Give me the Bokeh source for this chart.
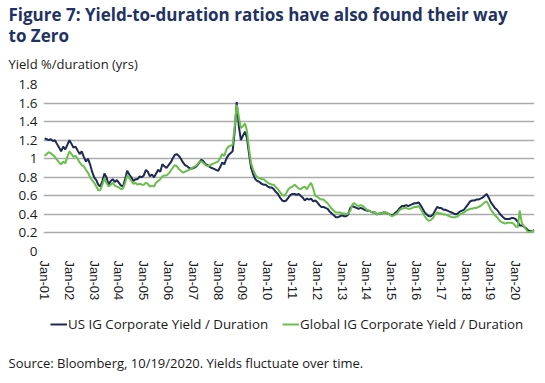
import pandas as pd
from bokeh.plotting import figure
from bokeh.layouts import column
from bokeh.models import (Legend, LegendItem, FixedTicker, DatetimeTickFormatter,
                          Range1d, ColumnDataSource, Title, Label)
from bokeh.embed import file_html
from bokeh.resources import INLINE

# ---------------- data (monthly, Jan-2001 .. Oct-2020) ----------------
us_ig = [
    1.22, 1.21, 1.20, 1.21, 1.19, 1.20, 1.16, 1.12, 1.08, 1.13, 1.10, 1.15,  # 2001
    1.20, 1.16, 1.12, 1.13, 1.09, 1.05, 1.08, 1.02, 0.97, 1.00, 0.94, 0.86,  # 2002
    0.80, 0.77, 0.72, 0.70, 0.76, 0.84, 0.80, 0.72, 0.76, 0.78, 0.75, 0.77,  # 2003
    0.74, 0.71, 0.70, 0.78, 0.87, 0.83, 0.80, 0.76, 0.78, 0.78, 0.81, 0.80,  # 2004
    0.82, 0.88, 0.86, 0.81, 0.83, 0.80, 0.84, 0.88, 0.86, 0.94, 0.92, 0.90,  # 2005
    0.93, 0.96, 1.00, 1.04, 1.05, 1.03, 1.00, 0.96, 0.93, 0.92, 0.90, 0.89,  # 2006
    0.90, 0.91, 0.93, 0.96, 0.99, 0.97, 0.94, 0.93, 0.91, 0.90, 0.89, 0.88,  # 2007
    0.87, 0.91, 0.96, 0.94, 1.00, 1.04, 1.06, 1.08, 1.30, 1.61, 1.35, 1.20,  # 2008
    1.25, 1.29, 1.22, 1.05, 0.90, 0.83, 0.78, 0.76, 0.75, 0.73, 0.72, 0.72,  # 2009
    0.70, 0.69, 0.69, 0.67, 0.64, 0.62, 0.58, 0.55, 0.54, 0.55, 0.58, 0.61,  # 2010
    0.62, 0.62, 0.61, 0.62, 0.60, 0.58, 0.55, 0.57, 0.56, 0.57, 0.54, 0.55,  # 2011
    0.53, 0.50, 0.48, 0.48, 0.47, 0.46, 0.43, 0.41, 0.39, 0.37, 0.37, 0.38,  # 2012
    0.39, 0.38, 0.38, 0.40, 0.47, 0.49, 0.48, 0.47, 0.46, 0.47, 0.46, 0.45,  # 2013
    0.44, 0.44, 0.43, 0.42, 0.42, 0.40, 0.41, 0.41, 0.42, 0.42, 0.41, 0.40,  # 2014
    0.39, 0.40, 0.42, 0.44, 0.47, 0.49, 0.49, 0.50, 0.49, 0.50, 0.51, 0.52,  # 2015
    0.52, 0.53, 0.50, 0.46, 0.42, 0.40, 0.38, 0.38, 0.40, 0.44, 0.48, 0.47,  # 2016
    0.47, 0.45, 0.45, 0.44, 0.43, 0.42, 0.41, 0.40, 0.41, 0.43, 0.44, 0.45,  # 2017
    0.48, 0.51, 0.54, 0.55, 0.55, 0.56, 0.56, 0.57, 0.58, 0.60, 0.62, 0.58,  # 2018
    0.53, 0.50, 0.47, 0.45, 0.42, 0.39, 0.37, 0.35, 0.35, 0.35, 0.36, 0.36,  # 2019
    0.35, 0.32, 0.28, 0.28, 0.27, 0.25, 0.23, 0.22, 0.22, 0.23,              # 2020
]

global_ig = [
    1.03, 1.05, 1.07, 1.06, 1.04, 1.02, 0.99, 0.96, 0.94, 0.97, 0.95, 1.02,  # 2001
    1.08, 1.05, 1.02, 1.03, 1.00, 0.96, 0.93, 0.92, 0.88, 0.85, 0.80, 0.77,  # 2002
    0.74, 0.70, 0.66, 0.66, 0.72, 0.79, 0.74, 0.70, 0.72, 0.74, 0.71, 0.70,  # 2003
    0.69, 0.67, 0.68, 0.74, 0.82, 0.79, 0.76, 0.73, 0.74, 0.72, 0.73, 0.72,  # 2004
    0.72, 0.74, 0.73, 0.70, 0.71, 0.70, 0.74, 0.76, 0.78, 0.81, 0.82, 0.82,  # 2005
    0.84, 0.87, 0.90, 0.93, 0.92, 0.89, 0.87, 0.85, 0.86, 0.87, 0.88, 0.89,  # 2006
    0.91, 0.92, 0.94, 0.97, 0.97, 0.95, 0.93, 0.92, 0.93, 0.94, 0.95, 0.96,  # 2007
    0.97, 1.01, 1.05, 1.03, 1.10, 1.13, 1.14, 1.15, 1.35, 1.58, 1.45, 1.33,  # 2008
    1.35, 1.38, 1.30, 1.10, 0.95, 0.88, 0.83, 0.80, 0.79, 0.78, 0.78, 0.76,  # 2009
    0.74, 0.73, 0.72, 0.72, 0.69, 0.67, 0.64, 0.61, 0.60, 0.63, 0.67, 0.69,  # 2010
    0.70, 0.72, 0.70, 0.68, 0.67, 0.69, 0.70, 0.67, 0.71, 0.74, 0.68, 0.60,  # 2011
    0.59, 0.57, 0.56, 0.56, 0.54, 0.52, 0.49, 0.46, 0.44, 0.42, 0.42, 0.42,  # 2012
    0.41, 0.41, 0.40, 0.41, 0.44, 0.51, 0.52, 0.50, 0.49, 0.50, 0.49, 0.47,  # 2013
    0.45, 0.44, 0.43, 0.42, 0.42, 0.40, 0.41, 0.41, 0.42, 0.42, 0.41, 0.40,  # 2014
    0.38, 0.39, 0.40, 0.42, 0.45, 0.46, 0.47, 0.47, 0.46, 0.46, 0.47, 0.48,  # 2015
    0.48, 0.49, 0.46, 0.42, 0.38, 0.35, 0.33, 0.34, 0.36, 0.40, 0.42, 0.41,  # 2016
    0.41, 0.40, 0.40, 0.39, 0.38, 0.37, 0.37, 0.37, 0.38, 0.40, 0.41, 0.42,  # 2017
    0.44, 0.45, 0.46, 0.46, 0.47, 0.47, 0.48, 0.49, 0.51, 0.53, 0.54, 0.50,  # 2018
    0.45, 0.42, 0.39, 0.37, 0.34, 0.32, 0.31, 0.30, 0.31, 0.31, 0.31, 0.30,  # 2019
    0.27, 0.26, 0.44, 0.31, 0.27, 0.24, 0.21, 0.21, 0.22, 0.22,              # 2020
]

dates = pd.date_range("2001-01-01", periods=len(us_ig), freq="MS")

tick_years = list(range(2001, 2021))
y_ticks = [0, 0.2, 0.4, 0.6, 0.8, 1.0, 1.2, 1.4, 1.6, 1.8]
y_tick_labels = ["0", "0.2", "0.4", "0.6", "0.8", "1", "1.2", "1.4", "1.6", "1.8"]

title_lines = ["Figure 7: Yield-to-duration ratios have also found their way", "to Zero"]
y_title = "Yield %/duration (yrs)"
series_names = ["US IG Corporate Yield / Duration", "Global IG Corporate Yield / Duration"]
source_note = "Source: Bloomberg, 10/19/2020. Yields fluctuate over time."

NAVY = "#1c2a55"
GREEN = "#6abf4b"
TITLE_C = "#1f3264"
TEXT_C = "#1a1a1a"
GRID_C = "#ababab"
FONT = "Open Sans"

W = 545
H_MAIN = 303
H_FOOT = 383 - H_MAIN

# ---------------- main chart ----------------
src = ColumnDataSource(dict(date=dates, us=us_ig, gl=global_ig))

p = figure(width=W, height=H_MAIN, output_backend="svg", toolbar_location=None,
           x_axis_type="datetime",
           x_range=Range1d(pd.Timestamp("2000-12-15"), pd.Timestamp("2020-10-05")),
           y_range=Range1d(0, 1.8))
p.frame_align = False
p.min_border_left = 43
p.min_border_right = 11
p.min_border_top = 84
p.min_border_bottom = 50
p.outline_line_color = None
p.background_fill_color = "white"
p.border_fill_color = "white"

r_us = p.line("date", "us", source=src, line_color=NAVY, line_width=2)
r_gl = p.line("date", "gl", source=src, line_color=GREEN, line_width=2)

p.xgrid.grid_line_color = None
p.ygrid.grid_line_color = GRID_C
p.ygrid.grid_line_width = 1.5
p.ygrid.ticker = FixedTicker(ticks=y_ticks)

p.yaxis.ticker = FixedTicker(ticks=y_ticks)
p.yaxis.major_label_overrides = {t: s for t, s in zip(y_ticks, y_tick_labels)}
p.yaxis.axis_line_color = None
p.yaxis.major_tick_line_color = None
p.yaxis.minor_tick_line_color = None
p.yaxis.major_tick_out = 0
p.yaxis.minor_tick_out = 0
p.yaxis.major_label_text_font = FONT
p.yaxis.major_label_text_font_size = "13.5px"
p.yaxis.major_label_text_color = TEXT_C
p.yaxis.major_label_standoff = 6

x_ticks = [pd.Timestamp(f"{y}-01-01").value / 1e6 for y in tick_years]
p.xaxis.ticker = FixedTicker(ticks=x_ticks)
p.xaxis.formatter = DatetimeTickFormatter(years="%b-%y", months="%b-%y", days="%b-%y",
                                          hours="%b-%y", minutes="%b-%y")
p.xaxis.major_label_orientation = "vertical"
p.xaxis.axis_line_color = None
p.xaxis.major_tick_line_color = None
p.xaxis.minor_tick_line_color = None
p.xaxis.major_tick_out = 0
p.xaxis.minor_tick_out = 0
p.xaxis.major_label_text_font = "Liberation Sans"
p.xaxis.major_label_text_font_size = "13px"
p.xaxis.major_label_text_color = TEXT_C
p.xaxis.major_label_standoff = 9

# texts above the plot (first added = closest to the plot)
p.title.text = ""
p.add_layout(Title(text=y_title, text_font=FONT, text_font_size="13px",
                   text_color=TEXT_C, text_font_style="normal", align="left",
                   offset=-35, vertical_align="top", standoff=17.5), "above")
p.add_layout(Title(text=title_lines[1], text_font=FONT, text_font_size="17px",
                   text_color=TITLE_C, text_font_style="bold", align="left",
                   offset=-35, vertical_align="bottom", standoff=-1), "above")
p.add_layout(Title(text=title_lines[0], text_font=FONT, text_font_size="17px",
                   text_color=TITLE_C, text_font_style="bold", align="left",
                   offset=-35, vertical_align="bottom", standoff=-7.5), "above")

# ---------------- footer: legend + source ----------------
f = figure(width=W, height=H_FOOT, output_backend="svg", toolbar_location=None,
           x_range=Range1d(0, W), y_range=Range1d(H_FOOT, 0),
           x_axis_location=None, y_axis_location=None)
f.frame_align = False
f.min_border = 0
f.min_border_left = 0
f.min_border_right = 0
f.min_border_top = 0
f.min_border_bottom = 0
f.outline_line_color = None
f.grid.grid_line_color = None
f.title.text = ""

# legend keys (NaN placeholders only carry the line style, nothing is drawn)
nan = float("nan")
k_us = f.line(x=[nan], y=[nan], line_color=NAVY, line_width=2)
k_gl = f.line(x=[nan], y=[nan], line_color=GREEN, line_width=2)

legend = Legend(items=[LegendItem(label=series_names[0], renderers=[k_us]),
                       LegendItem(label=series_names[1], renderers=[k_gl])],
                orientation="horizontal", location=(50, H_FOOT - 31),
                label_text_font=FONT, label_text_font_size="13.3px", label_text_color=TEXT_C,
                glyph_width=17, glyph_height=20, label_height=20, label_standoff=1,
                spacing=14, padding=0, margin=0, border_line_color=None,
                background_fill_alpha=0)
f.add_layout(legend, "center")

f.add_layout(Label(x=8, y=59, text=source_note, text_font=FONT, text_font_size="13px",
                   text_color=TEXT_C, text_baseline="alphabetic", text_align="left"))

layout = column(p, f, spacing=0)
open("out.html", "w").write(file_html(layout, INLINE))
